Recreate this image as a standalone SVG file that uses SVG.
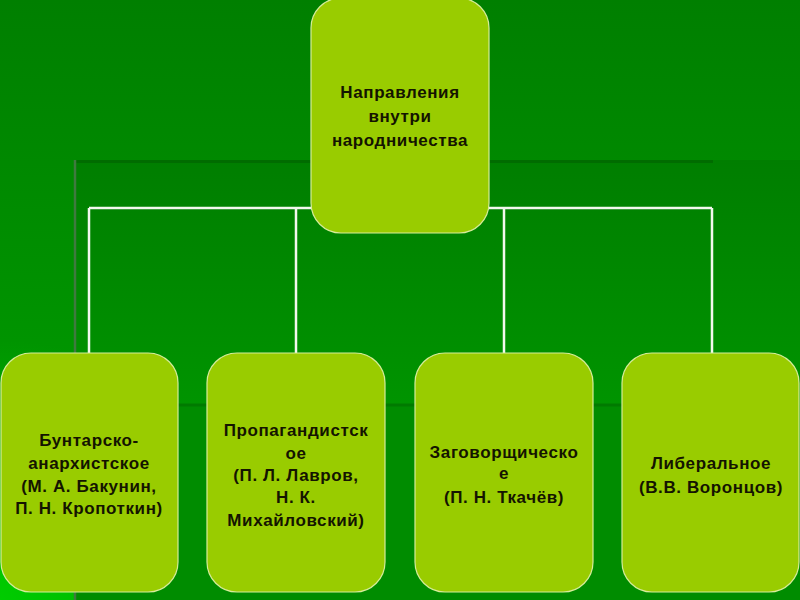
<svg xmlns="http://www.w3.org/2000/svg" width="800" height="600" viewBox="0 0 800 600">
  <defs>
    <linearGradient id="bg" x1="0" y1="0" x2="0" y2="1">
      <stop offset="0" stop-color="#007f00"/>
      <stop offset="1" stop-color="#00a400"/>
    </linearGradient>
    <radialGradient id="glow" cx="0" cy="600" r="260" gradientUnits="userSpaceOnUse">
      <stop offset="0" stop-color="#00d000" stop-opacity="0.9"/>
      <stop offset="1" stop-color="#00d000" stop-opacity="0"/>
    </radialGradient>
    <linearGradient id="inner" x1="0" y1="160" x2="0" y2="405" gradientUnits="userSpaceOnUse">
      <stop offset="0" stop-color="#007e00"/>
      <stop offset="1" stop-color="#009400"/>
    </linearGradient>
    <style>
      .node rect { fill: #99cc00; stroke: #d6ec9a; stroke-width: 1.2; }
      .node text { font-family: "Liberation Sans", Arial, sans-serif; font-weight: bold; font-size: 17px; fill: #141400; text-anchor: middle; letter-spacing: 0.6px; }
      .conn line { stroke: #f2f8ee; stroke-width: 2.5; }
    </style>
  </defs>

  <!-- background -->
  <rect x="0" y="0" width="800" height="600" fill="url(#bg)"/>
  <rect x="0" y="0" width="800" height="600" fill="url(#glow)"/>
  <rect x="74" y="160" width="726" height="245" fill="url(#inner)"/>
  <rect x="74" y="405" width="726" height="195" fill="#008c00"/>
  <line x1="74" y1="161.5" x2="713" y2="161.5" stroke="#006c00" stroke-width="3"/>
  <line x1="74" y1="405" x2="713" y2="405" stroke="#007a00" stroke-width="3"/>
  <line x1="75" y1="160" x2="75" y2="600" stroke="#3f7a3f" stroke-width="2.5"/>

  <!-- connectors -->
  <g id="connectors" class="conn">
    <line x1="89" y1="208" x2="712" y2="208"/>
    <line x1="89" y1="208" x2="89" y2="354"/>
    <line x1="296" y1="208" x2="296" y2="354"/>
    <line x1="504" y1="208" x2="504" y2="354"/>
    <line x1="712" y1="208" x2="712" y2="354"/>
  </g>

  <g id="root" class="node">
    <rect x="311" y="-2" width="178" height="235" rx="30" ry="30"/>
    <text x="400" y="98">Направления</text>
    <text x="400" y="122">внутри</text>
    <text x="400" y="146">народничества</text>
  </g>

  <g id="n1" class="node">
    <rect x="1" y="353" width="177" height="239" rx="30" ry="30"/>
    <text x="89" y="446">Бунтарско-</text>
    <text x="89" y="469">анархистское</text>
    <text x="89" y="492">(М. А. Бакунин,</text>
    <text x="89" y="514">П. Н. Кропоткин)</text>
  </g>

  <g id="n2" class="node">
    <rect x="207" y="353" width="178" height="239" rx="30" ry="30"/>
    <text x="296" y="436">Пропагандистск</text>
    <text x="296" y="459">ое</text>
    <text x="296" y="481">(П. Л. Лавров,</text>
    <text x="296" y="503">Н. К.</text>
    <text x="296" y="526">Михайловский)</text>
  </g>

  <g id="n3" class="node">
    <rect x="415" y="353" width="178" height="239" rx="30" ry="30"/>
    <text x="504" y="458">Заговорщическо</text>
    <text x="504" y="479">е</text>
    <text x="504" y="503">(П. Н. Ткачёв)</text>
  </g>

  <g id="n4" class="node">
    <rect x="622" y="353" width="177" height="239" rx="30" ry="30"/>
    <text x="711" y="469">Либеральное</text>
    <text x="711" y="493">(В.В. Воронцов)</text>
  </g>
</svg>
